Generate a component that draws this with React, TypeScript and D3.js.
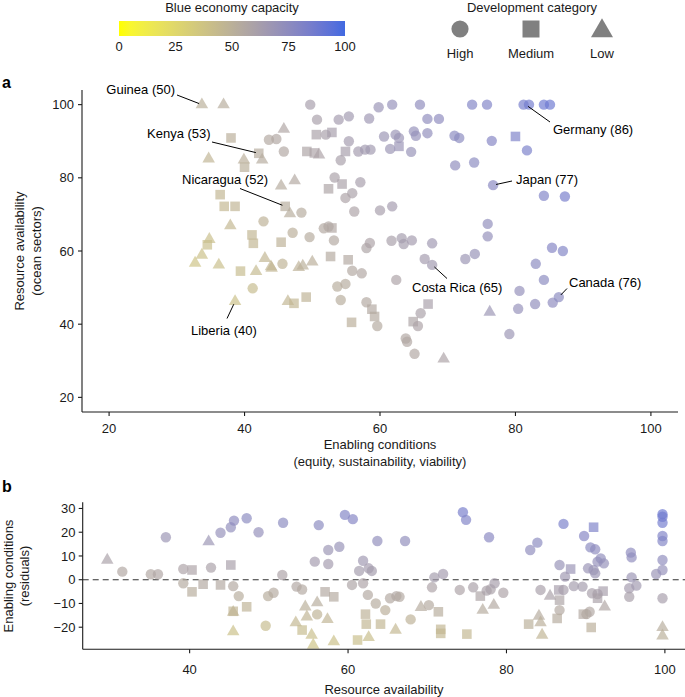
import React from "react";
import * as d3 from "d3";

type Cat = "H" | "M" | "L";

// ---------- DATA ----------
const capacityTicks = [0, 25, 50, 75, 100];
const categoryCodes: Cat[] = ["H", "M", "L"];
const categoryNames = ["High", "Medium", "Low"];
const aXTicks = [20, 40, 60, 80, 100];
const aYTicks = [20, 40, 60, 80, 100];
const bXTicks = [40, 60, 80, 100];
const bYTicks = [-20, -10, 0, 10, 20, 30];

// Panel a: [enabling conditions, resource availability, development category, blue economy capacity]
const panelA: [number, number, Cat, number][] = [
  [33.7, 100, "L", 50], [36.9, 100, "L", 52], [49.7, 100, "H", 62], [50.7, 95.9, "H", 61],
  [53.9, 95.9, "H", 64], [55.4, 96.8, "H", 65], [58.4, 96.2, "H", 67], [59.8, 99.3, "H", 69],
  [61.8, 100, "H", 71], [65.9, 100, "H", 74], [67, 96.1, "H", 74], [68.7, 96.1, "H", 75],
  [73.6, 100, "H", 80], [75.8, 100, "H", 81], [81.2, 100, "H", 85], [82.0, 100, "H", 86],
  [84.2, 100, "H", 88], [85.1, 100, "H", 88], [55.4, 90, "H", 64], [60.6, 91.3, "H", 68],
  [62.3, 91.8, "H", 69], [62.8, 90.9, "H", 69], [65, 92.7, "H", 71], [65.3, 91.5, "H", 71],
  [67, 92.2, "H", 73], [71, 91.5, "H", 76], [71.7, 90.9, "H", 76], [76.5, 90.1, "H", 79],
  [80, 91.3, "M", 82], [81.7, 87.5, "H", 83], [54.9, 87.2, "M", 62], [56.8, 87.2, "H", 64],
  [57.8, 87.7, "H", 65], [58.6, 87.7, "H", 65], [61.5, 87.9, "H", 68], [62.8, 88.6, "M", 69],
  [64.6, 87.1, "H", 70], [54.2, 84.8, "H", 61], [71.1, 83.4, "H", 74], [73.9, 84.2, "H", 76],
  [76.7, 78, "H", 77], [84.2, 75.1, "H", 81], [87.3, 74.9, "H", 84], [53.3, 80.1, "H", 60],
  [54.4, 78.3, "M", 60], [55.9, 75.8, "H", 60], [57.1, 78.8, "H", 62], [52.4, 77, "M", 58],
  [54.9, 74.5, "H", 59], [56.2, 70.8, "H", 59], [60, 71.1, "H", 62], [61.8, 72.2, "H", 64],
  [75.9, 67.4, "H", 73], [75.9, 64, "H", 72], [52.9, 66.3, "M", 56], [53.2, 62.9, "H", 55],
  [55.3, 57.6, "M", 55], [55.9, 54.6, "H", 55], [57.3, 53.9, "H", 56], [58, 60.8, "H", 58],
  [58.5, 62.2, "H", 59], [61.7, 62.8, "H", 61], [63.2, 63.5, "H", 63], [63.5, 61.9, "H", 63],
  [64.7, 62.9, "H", 64], [67.7, 62.1, "H", 66], [66.6, 57.8, "H", 64], [67.7, 56.2, "H", 65],
  [72.6, 57.8, "H", 68], [74, 59.2, "H", 70], [85.4, 60.9, "H", 79], [87, 60, "H", 80],
  [83, 56.5, "H", 76], [84.2, 52.1, "H", 76], [80.6, 49.1, "H", 72], [80.4, 44.2, "H", 71],
  [82.9, 45.5, "H", 73], [85.5, 45.9, "H", 75], [86.4, 47.4, "H", 76], [79.1, 37.3, "H", 68],
  [76.2, 43.3, "L", 68], [62.4, 52.1, "H", 59], [66, 43, "H", 60], [67.1, 45.5, "M", 61],
  [64.9, 40.7, "M", 58], [65.6, 39.5, "H", 59], [63.8, 36.1, "H", 56], [64, 35.2, "H", 56],
  [65.1, 31.9, "H", 56], [69.4, 30.5, "L", 59], [53.7, 50.3, "H", 52], [54.9, 51, "H", 53],
  [54.2, 46.6, "H", 52], [58, 46, "H", 55], [58.8, 44.1, "M", 55], [59.2, 42.1, "M", 54],
  [59.6, 39.5, "H", 54], [55.8, 40.5, "M", 51], [46, 72.2, "M", 52], [46.7, 70.2, "L", 52],
  [48.4, 70.5, "H", 53], [47.1, 65, "H", 51], [49.6, 63.8, "H", 53], [45.4, 62.4, "M", 49],
  [51.7, 66.2, "H", 55], [52.4, 66.7, "H", 56], [45.6, 56.5, "H", 48], [48, 55.5, "L", 49],
  [48.6, 55.9, "L", 50], [50, 57, "L", 51], [44, 55.3, "L", 46], [52.7, 58.5, "M", 54],
  [41.1, 64.4, "M", 46], [41.3, 62.1, "M", 46], [42.8, 68.1, "H", 49], [37.9, 66.9, "L", 45],
  [36.4, 75.4, "M", 46], [37, 72.2, "M", 45], [38.6, 72.2, "M", 47], [34.8, 63.2, "L", 41],
  [34.5, 61.7, "M", 41], [32.7, 56.7, "L", 38], [33.7, 58.9, "L", 40], [36.2, 56.2, "L", 41],
  [39.4, 54.5, "M", 43], [41.7, 54.4, "L", 44], [43, 58, "L", 46], [43.9, 55.7, "L", 46],
  [41.2, 49.8, "H", 43], [38.6, 46.2, "L", 40], [46.4, 46.2, "L", 46], [47.3, 45.7, "M", 46],
  [49.1, 47.4, "M", 48], [38, 90.9, "M", 51], [34.7, 85.2, "L", 47], [39.9, 84.9, "L", 51],
  [40, 82.9, "M", 50], [42.1, 86.7, "M", 53], [42.6, 84.9, "L", 53], [43.6, 90.4, "H", 55],
  [44.7, 90.6, "H", 56], [45.8, 87.2, "H", 56], [45.8, 93.3, "L", 57], [49.2, 87.2, "M", 58],
  [50.3, 86.8, "M", 59], [51, 86.3, "L", 59], [50.6, 91.8, "M", 60], [52, 91.8, "H", 61],
  [52.9, 92.4, "M", 62], [45.4, 77.8, "L", 53], [47.4, 79.2, "L", 55],
];

// Panel b: [resource availability, enabling conditions residual, development category, capacity]
const panelB: [number, number, Cat, number][] = [
  [29.6, 8.3, "L", 60], [31.5, 3.4, "H", 56], [35.1, 2.3, "H", 56], [36, 2.3, "H", 57],
  [37, 17.9, "H", 68], [39.2, 4.5, "H", 59], [40.3, 4.1, "M", 59], [39.2, -1.5, "H", 54],
  [40.3, -5.1, "M", 52], [41.7, -1.9, "M", 55], [42.7, 5.1, "H", 60], [42.4, 16, "L", 68],
  [43.9, 19.8, "H", 71], [45.2, 22.1, "H", 73], [45.6, 24.9, "H", 75], [47.2, 25.9, "H", 76],
  [48.7, 20, "H", 72], [51.8, 24, "H", 76], [43.9, -2.2, "M", 55], [45.2, 6.2, "M", 61],
  [45.5, -2.7, "H", 55], [46.2, -6.9, "H", 52], [45.5, -13.7, "L", 46], [45.5, -13.3, "M", 47],
  [47.2, -11.4, "M", 48], [45.5, -21.9, "L", 40], [49.6, -19.4, "H", 43], [49.9, -6.9, "H", 52],
  [50.6, -5.5, "H", 54], [51.7, 2, "H", 59], [53.5, -2.9, "H", 56], [54.2, -4.1, "H", 55],
  [54.6, -11.4, "L", 50], [53.4, -18.1, "L", 45], [54.8, -15.6, "L", 47], [54.2, -21.2, "M", 43],
  [55.4, -23.3, "L", 41], [55.6, -27.5, "L", 38], [56.1, -9.7, "L", 52], [56.1, -14.6, "H", 48],
  [57.4, -16.7, "L", 47], [58.2, -26.1, "L", 40], [57.1, -5.1, "M", 55], [58.2, -7.2, "M", 54],
  [55.8, 7.6, "H", 64], [57.5, 6.6, "H", 64], [57.5, 12.5, "H", 68], [58.9, 13.9, "H", 70],
  [56.3, 23, "H", 76], [59.6, 27.3, "H", 80], [60.6, 25.5, "H", 79], [63.7, 16.3, "H", 73],
  [67.2, 16.3, "H", 73], [61.9, 8, "H", 66], [61.4, 3.7, "H", 63], [62.6, 4.8, "H", 64],
  [63, 3.7, "H", 63], [61.9, -1.5, "H", 59], [60.5, -2.2, "H", 58], [62.5, -6.4, "H", 55],
  [63.5, -10, "H", 53], [64.7, -12.8, "H", 51], [65.3, -7.8, "H", 55], [66.1, -6.9, "H", 56],
  [66.5, -7.2, "H", 55], [62.2, -14.5, "M", 49], [62.3, -18.7, "M", 46], [64.1, -18.7, "M", 46],
  [66, -21.2, "L", 45], [62.6, -24.3, "L", 42], [61.2, -25.4, "M", 41], [67.9, -16.7, "H", 49],
  [69.2, -11.6, "L", 53], [70.2, -10.7, "H", 54], [71.4, -13.5, "M", 52], [71.7, -20.9, "M", 46],
  [71.7, -22.6, "M", 45], [75, -22.9, "M", 45], [70.6, -3.2, "H", 59], [70.9, 1, "H", 63],
  [72, 2.4, "H", 64], [74.1, -4.3, "H", 59], [75.8, -3.2, "H", 60], [76.7, -6.9, "M", 58],
  [77.5, -4.6, "H", 60], [78, -4, "H", 60], [78.5, -1.5, "H", 62], [79.6, -5.5, "H", 59],
  [77, -12.8, "L", 53], [78.4, -10.7, "L", 55], [74.5, 28.4, "H", 84], [74.9, 25.2, "H", 81],
  [77.8, 17.9, "H", 77], [83, 12.5, "H", 74], [83.9, 15.6, "H", 76], [84.3, -4.3, "H", 61],
  [85.5, -6.9, "L", 60], [84.1, -15.3, "L", 53], [84.3, -18.1, "L", 51], [84.5, -23.3, "L", 47],
  [82.8, -18.7, "M", 50], [87.2, 23.5, "H", 83], [86.7, 6.2, "H", 70], [88.1, 4.5, "M", 69],
  [87.4, 1.3, "H", 66], [86.6, -4.3, "M", 62], [86.7, -8.6, "M", 58], [87.2, -4.3, "H", 62],
  [86.7, -12.8, "H", 55], [86.4, -16.3, "M", 53], [88.5, -2.7, "H", 63], [89.6, -2.9, "H", 63],
  [89.8, 18.4, "H", 79], [91, 22.1, "M", 82], [90.6, 13.6, "H", 76], [91.2, 12.8, "H", 75],
  [90.3, 4.8, "H", 69], [91, 4.1, "H", 69], [91.5, 7.6, "H", 72], [91.9, 9, "H", 73],
  [92.3, 6.9, "H", 71], [91.2, 2.7, "H", 68], [90.8, -5.7, "H", 61], [91.5, -6, "H", 61],
  [92.2, -4.8, "M", 62], [91.5, -7.8, "M", 60], [90.1, -14.5, "H", 55], [90.5, -13.5, "H", 56],
  [89.7, -14.5, "M", 55], [92.4, -11.4, "L", 57], [90.7, -20.1, "M", 51], [95.7, 11.4, "H", 75],
  [95.8, 9.4, "H", 74], [95.8, 1, "H", 68], [95.5, -3.6, "H", 64], [96.4, -2.5, "H", 65],
  [95.5, -7.2, "H", 61], [98.9, 2.4, "H", 69], [99.7, 27.6, "H", 88], [99.7, 26.5, "H", 87],
  [99.7, 24, "H", 86], [99.7, 18.4, "H", 81], [99.7, 16.3, "H", 80], [99.7, 8.3, "H", 74],
  [99.7, 4.1, "H", 71], [99.7, -7.8, "H", 62], [99.7, -20.1, "L", 52], [99.7, -23.6, "L", 50],
];

// Labelled countries: name, enabling conditions, resource availability, capacity
const labelNames = ["Guinea", "Kenya", "Nicaragua", "Germany", "Japan", "Costa Rica", "Canada", "Liberia"];
const labelEnabling = [33.7, 42.1, 46, 81.5, 76.7, 67.7, 86.4, 38.6];
const labelResource = [100, 86.7, 72.2, 100, 78, 56.2, 47.4, 46.2];
const labelCapacity = [50, 53, 52, 86, 77, 65, 76, 40];

// Label placement (pixels): text x, text y, anchor, leader start x, y
const labelLayout: { tx: number; ty: number; anchor: string; lx: number; ly: number }[] = [
  { tx: 175, ty: 89, anchor: "end", lx: 177, ly: 95 },
  { tx: 147, ty: 133, anchor: "start", lx: 212, ly: 142 },
  { tx: 182, ty: 179.5, anchor: "start", lx: 240, ly: 188.5 },
  { tx: 553, ty: 129, anchor: "start", lx: 550, ly: 122 },
  { tx: 516, ty: 179.5, anchor: "start", lx: 512, ly: 181 },
  { tx: 412, ty: 287.5, anchor: "start", lx: 447, ly: 278.5 },
  { tx: 569, ty: 282, anchor: "start", lx: 567, ly: 288.5 },
  { tx: 191, ty: 330, anchor: "start", lx: 227, ly: 318.5 },
];

// ---------- STYLE ----------
const FONT = "'Liberation Sans', Arial, Helvetica, sans-serif";
const INK = "#1a1a1a";
const colour = d3.scaleSequential(d3.interpolateLab("yellow", "royalblue")).domain([0, 100]);
const symType: Record<Cat, d3.SymbolType> = { H: d3.symbolCircle, M: d3.symbolSquare, L: d3.symbolTriangle };
const symSize: Record<Cat, number> = { H: 85, M: 92, L: 68 };
const legendSize: Record<Cat, number> = { H: 232, M: 289, L: 210 };
const fmt = (v: number) => (v < 0 ? "\u2212" + Math.abs(v) : String(v));

function symPath(c: Cat, size: number) {
  return d3.symbol().type(symType[c]).size(size)() as string;
}

export default function App() {
  const W = 685, H = 697;

  const ax = d3.scaleLinear().domain([16, 104]).range([82, 678]);
  const ay = d3.scaleLinear().domain([16, 104]).range([412, 90]);
  const bx = d3.scaleLinear().domain([26.5, 103.6]).range([82.7, 693.4]);
  const by = d3.scaleLinear().domain([-29.3, 32.6]).range([649.3, 502.3]);
  const cbx = d3.scaleLinear().domain([0, 100]).range([119, 345]);

  const gradStops = d3.range(0, 101, 5);

  const textProps = { fontFamily: FONT, fontSize: 13, fill: INK } as const;

  return (
    <svg width={W} height={H} style={{ position: "absolute", left: 0, top: 0, background: "#fff" }}>
      <defs>
        <linearGradient id="cbar" x1="0" x2="1" y1="0" y2="0">
          {gradStops.map((s) => (
            <stop key={s} offset={`${s}%`} stopColor={colour(s)} />
          ))}
        </linearGradient>
      </defs>
      <rect x={0} y={0} width={W} height={H} fill="#fff" />

      {/* ---- Legend: colour bar ---- */}
      <text {...textProps} x={232} y={7} textAnchor="middle" dy="0.35em">Blue economy capacity</text>
      <rect x={cbx(0)} y={21} width={cbx(100) - cbx(0)} height={15} fill="url(#cbar)" />
      {capacityTicks.map((t) => (
        <text key={t} {...textProps} x={cbx(t)} y={46} textAnchor="middle" dy="0.35em">{t}</text>
      ))}

      {/* ---- Legend: development category ---- */}
      <text {...textProps} x={532} y={7} textAnchor="middle" dy="0.35em">Development category</text>
      {categoryCodes.map((c, i) => {
        const cx = [460, 531, 602][i];
        const cy = c === "L" ? 31 : 29;
        return (
          <g key={c}>
            <path d={symPath(c, legendSize[c])} transform={`translate(${cx},${cy})`} fill="#808080" />
            <text {...textProps} x={cx} y={53} textAnchor="middle" dy="0.35em">{categoryNames[i]}</text>
          </g>
        );
      })}

      {/* ---- Panel a ---- */}
      <text x={2} y={88} fontFamily={FONT} fontSize={16} fontWeight="bold" fill="#000">a</text>
      {/* points */}
      {panelA.map((d, i) => (
        <path key={i} d={symPath(d[2], symSize[d[2]])} transform={`translate(${ax(d[0])},${ay(d[1])})`}
          fill={colour(d[3])} fillOpacity={0.68} />
      ))}
      {/* labels */}
      {labelNames.map((n, i) => {
        const L = labelLayout[i];
        const px = ax(labelEnabling[i]), py = ay(labelResource[i]);
        const dx = px - L.lx, dy = py - L.ly;
        const len = Math.hypot(dx, dy);
        const ex = px - (dx / len) * 3, ey = py - (dy / len) * 3;
        return (
          <g key={n}>
            <line x1={L.lx} y1={L.ly} x2={ex} y2={ey} stroke="#000" strokeWidth={1} />
            <text x={L.tx} y={L.ty} dy="0.35em" textAnchor={L.anchor} fontFamily={FONT} fontSize={13} fill="#000">
              {`${n} (${labelCapacity[i]})`}
            </text>
          </g>
        );
      })}
      {/* axes */}
      <line x1={82} x2={82} y1={90} y2={412} stroke={INK} strokeWidth={1.1} />
      <line x1={82} x2={678} y1={412} y2={412} stroke={INK} strokeWidth={1.1} />
      {aYTicks.map((t) => (
        <g key={t}>
          <line x1={78} x2={82} y1={ay(t)} y2={ay(t)} stroke={INK} strokeWidth={1.1} />
          <text {...textProps} x={74} y={ay(t)} textAnchor="end" dy="0.35em">{fmt(t)}</text>
        </g>
      ))}
      {aXTicks.map((t) => (
        <g key={t}>
          <line x1={ax(t)} x2={ax(t)} y1={412} y2={416} stroke={INK} strokeWidth={1.1} />
          <text {...textProps} x={ax(t)} y={428} textAnchor="middle" dy="0.35em">{fmt(t)}</text>
        </g>
      ))}
      <text {...textProps} x={380} y={444} textAnchor="middle" dy="0.35em">Enabling conditions</text>
      <text {...textProps} x={380} y={461} textAnchor="middle" dy="0.35em">(equity, sustainability, viability)</text>
      <g transform="translate(19,251) rotate(-90)">
        <text {...textProps} x={0} y={0} textAnchor="middle" dy="0.35em">Resource availability</text>
      </g>
      <g transform="translate(36,251) rotate(-90)">
        <text {...textProps} x={0} y={0} textAnchor="middle" dy="0.35em">(ocean sectors)</text>
      </g>

      {/* ---- Panel b ---- */}
      <text x={2} y={492} fontFamily={FONT} fontSize={16} fontWeight="bold" fill="#000">b</text>
      <line x1={82.7} x2={693} y1={by(0)} y2={by(0)} stroke="#333" strokeWidth={1.1} strokeDasharray="6,4" />
      {panelB.map((d, i) => (
        <path key={i} d={symPath(d[2], symSize[d[2]])} transform={`translate(${bx(d[0])},${by(d[1])})`}
          fill={colour(d[3])} fillOpacity={0.68} />
      ))}
      <line x1={82.7} x2={82.7} y1={502.3} y2={649.3} stroke={INK} strokeWidth={1.1} />
      <line x1={82.7} x2={693} y1={649.3} y2={649.3} stroke={INK} strokeWidth={1.1} />
      {bYTicks.map((t) => (
        <g key={t}>
          <line x1={78.7} x2={82.7} y1={by(t)} y2={by(t)} stroke={INK} strokeWidth={1.1} />
          <text {...textProps} x={75.5} y={by(t)} textAnchor="end" dy="0.35em">{fmt(t)}</text>
        </g>
      ))}
      {bXTicks.map((t) => (
        <g key={t}>
          <line x1={bx(t)} x2={bx(t)} y1={649.3} y2={653.3} stroke={INK} strokeWidth={1.1} />
          <text {...textProps} x={bx(t)} y={669} textAnchor="middle" dy="0.35em">{fmt(t)}</text>
        </g>
      ))}
      <text {...textProps} x={384} y={689} textAnchor="middle" dy="0.35em">Resource availability</text>
      <g transform="translate(8,576) rotate(-90)">
        <text {...textProps} x={0} y={0} textAnchor="middle" dy="0.35em">Enabling conditions</text>
      </g>
      <g transform="translate(24,576) rotate(-90)">
        <text {...textProps} x={0} y={0} textAnchor="middle" dy="0.35em">(residuals)</text>
      </g>
    </svg>
  );
}
